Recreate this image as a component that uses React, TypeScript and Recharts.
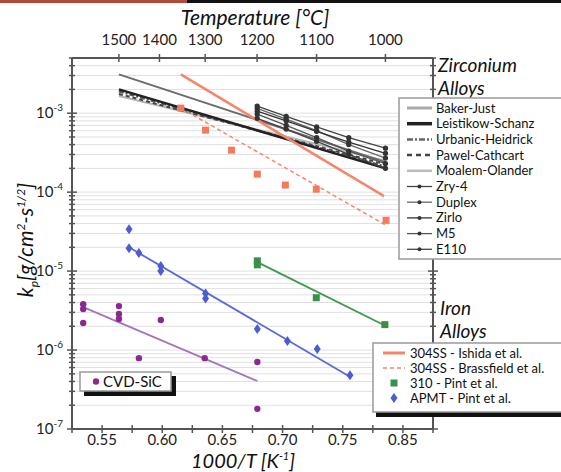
import React from 'react';
import { ComposedChart, Line, Scatter, XAxis, YAxis, CartesianGrid } from 'recharts';

// x values are 1000/T [1/K]
const temperatures = [1500, 1400, 1300, 1200, 1100, 1000];
const xTicks = [0.55, 0.6, 0.65, 0.7, 0.75, 0.8];
const xTickLabels = ['0.55', '0.60', '0.65', '0.70', '0.75', '0.85'];

// zirconium correlations (1500 -> 1000 C)
const corrX = [0.564, 0.7855];
const bakerJust = [3.1e-3, 2.4e-4];
const leistikowSchanz = [2.0e-3, 2.0e-4];
const urbanicHeidrick = [1.9e-3, 2.1e-4];
const pawelCathcart = [1.75e-3, 2.25e-4];
const moalemOlander = [1.65e-3, 2.5e-4];

// zirconium alloys (1200 -> 1000 C)
const alloyX = [0.6789, 0.703, 0.7283, 0.755, 0.7855];
const zry4 = [1.23e-3, 9.1e-4, 6.7e-4, 4.9e-4, 3.6e-4];
const duplex = [1.15e-3, 8.4e-4, 6.0e-4, 4.0e-4, 2.7e-4];
const zirlo = [1.06e-3, 8.0e-4, 5.9e-4, 4.3e-4, 3.1e-4];
const m5 = [9.7e-4, 7.0e-4, 4.9e-4, 3.3e-4, 2.3e-4];
const e110 = [8.6e-4, 6.3e-4, 4.4e-4, 3.0e-4, 2.0e-4];

// iron alloys
const ishidaX = [0.6154, 0.7843];
const ishidaY = [3.1e-3, 8.9e-5];
const brassfieldX = [0.6154, 0.636, 0.6576, 0.679, 0.7023, 0.728, 0.786];
const brassfieldY = [1.16e-3, 6.1e-4, 3.4e-4, 1.69e-4, 1.23e-4, 1.09e-4, 4.4e-5];
const brassfieldFitX = [0.6154, 0.786];
const brassfieldFitY = [1.16e-3, 3.8e-5];
const pint310X = [0.679, 0.679, 0.728, 0.785];
const pint310Y = [1.35e-5, 1.2e-5, 4.6e-6, 2.1e-6];
const pint310FitX = [0.679, 0.785];
const pint310FitY = [1.3e-5, 2.05e-6];
const apmtX = [0.5724, 0.5724, 0.5806, 0.5988, 0.5988, 0.636, 0.636, 0.679, 0.704, 0.7288, 0.756];
const apmtY = [3.4e-5, 1.95e-5, 1.69e-5, 1.16e-5, 1.0e-5, 5.2e-6, 4.5e-6, 1.85e-6, 1.3e-6, 1.03e-6, 4.8e-7];
const apmtFitX = [0.5724, 0.756];
const apmtFitY = [2.0e-5, 4.6e-7];

// CVD-SiC
const sicX = [0.5343, 0.5343, 0.5343, 0.564, 0.564, 0.564, 0.5988, 0.5806, 0.6353, 0.679, 0.679];
const sicY = [3.8e-6, 3.3e-6, 2.2e-6, 3.6e-6, 2.86e-6, 2.47e-6, 2.4e-6, 7.9e-7, 7.9e-7, 7.05e-7, 1.8e-7];
const sicFitX = [0.5343, 0.679];
const sicFitY = [3.5e-6, 4.05e-7];

const pts = (xs: number[], ys: number[]) => xs.map((x, i) => ({ x, y: ys[i] }));

const yTicks: number[] = [];
for (let e = -7; e <= -3; e++) {
  for (let m = 1; m <= 9; m++) {
    if (e === -3 && m > 5) break;
    yTicks.push(m * Math.pow(10, e));
  }
}
const xMinorTicks: number[] = [];
for (let i = 0; i <= 12; i++) xMinorTicks.push(+(0.525 + i * 0.025).toFixed(3));
const topTicks = temperatures.map((t) => 1000 / (t + 273.15));

const SALMON = '#f4866a';
const GREEN = '#3d9a4c';
const BLUE = '#5b6ad6';
const PURPLE = '#8a2a8e';
const AXIS = '#555';
const FONT = 'Lato, "DejaVu Sans", sans-serif';

const YTick = (props: any) => {
  const { y, payload } = props;
  const v = payload.value;
  const e = Math.round(Math.log10(v));
  const major = Math.abs(v - Math.pow(10, e)) / v < 1e-6;
  return (
    <g>
      <line x1={major ? 67 : 69} x2={major ? 77 : 75} y1={y} y2={y} stroke={AXIS} strokeWidth={1.5} />
      {major && (
        <text x={63} y={y + 5} textAnchor="end" fontSize={15} fill="#222" fontFamily={FONT}>
          10<tspan dy={-7} fontSize={10}>{String(e)}</tspan>
        </text>
      )}
    </g>
  );
};

const RightTick = (props: any) => {
  const { y, payload } = props;
  const v = payload.value;
  const e = Math.round(Math.log10(v));
  const major = Math.abs(v - Math.pow(10, e)) / v < 1e-6;
  return <line x1={major ? 428 : 430} x2={major ? 438 : 436} y1={y} y2={y} stroke={AXIS} strokeWidth={1.5} />;
};

const BottomTick = (props: any) => {
  const { x, payload } = props;
  const idx = xTicks.findIndex((t) => Math.abs(t - payload.value) < 1e-6);
  return (
    <g>
      <line x1={x} x2={x} y1={425} y2={433} stroke={AXIS} strokeWidth={1.5} />
      {idx >= 0 && (
        <text x={x} y={445} textAnchor="middle" fontSize={15} fill="#222" fontFamily={FONT}>
          {xTickLabels[idx]}
        </text>
      )}
    </g>
  );
};

const TopTick = (props: any) => {
  const { x, payload } = props;
  const label = Math.round((1000 / payload.value - 273.15) / 10) * 10;
  return (
    <g>
      <line x1={x} x2={x} y1={54} y2={62} stroke={AXIS} strokeWidth={1.5} />
      <text x={x} y={45} textAnchor="middle" fontSize={15} fill="#222" fontFamily={FONT}>
        {label}
      </text>
    </g>
  );
};

const Square = (p: any) => <rect x={p.cx - 3.5} y={p.cy - 3.5} width={7} height={7} fill={p.fill} />;
const Diamond = (p: any) => (
  <path d={`M${p.cx},${p.cy - 5} L${p.cx + 3.5},${p.cy} L${p.cx},${p.cy + 5} L${p.cx - 3.5},${p.cy} Z`} fill={p.fill} />
);
const Dot = (p: any) => <circle cx={p.cx} cy={p.cy} r={3.2} fill={p.fill} />;

const zrLegend = [
  { name: 'Baker-Just', stroke: '#aaa', width: 3, dash: undefined, dot: false },
  { name: 'Leistikow-Schanz', stroke: '#222', width: 3.5, dash: undefined, dot: false },
  { name: 'Urbanic-Heidrick', stroke: '#666', width: 2.5, dash: '6 2 2 2', dot: false },
  { name: 'Pawel-Cathcart', stroke: '#444', width: 2.5, dash: '5 4', dot: false },
  { name: 'Moalem-Olander', stroke: '#bbb', width: 2.5, dash: undefined, dot: false },
  { name: 'Zry-4', stroke: '#444', width: 1.3, dash: undefined, dot: true },
  { name: 'Duplex', stroke: '#666', width: 1.3, dash: undefined, dot: true },
  { name: 'Zirlo', stroke: '#333', width: 1.3, dash: undefined, dot: true },
  { name: 'M5', stroke: '#555', width: 1.3, dash: undefined, dot: true },
  { name: 'E110', stroke: '#444', width: 1.3, dash: undefined, dot: true },
];

export default function App() {
  const lineProps = { type: 'linear' as const, isAnimationActive: false, dataKey: 'y' };
  const alloySeries = [
    { key: 'zry4', ys: zry4, stroke: '#444' },
    { key: 'duplex', ys: duplex, stroke: '#666' },
    { key: 'zirlo', ys: zirlo, stroke: '#333' },
    { key: 'm5', ys: m5, stroke: '#555' },
    { key: 'e110', ys: e110, stroke: '#444' },
  ];

  return (
    <div style={{ position: 'absolute', left: 0, top: 0, width: 561, height: 472, background: '#fff', fontFamily: FONT }}>
      <ComposedChart width={561} height={472} margin={{ top: 0, right: 0, bottom: 0, left: 0 }}>
        <CartesianGrid vertical={false} stroke="#e0e0e0" />
        <XAxis
          type="number"
          dataKey="x"
          domain={[0.525, 0.825]}
          ticks={xMinorTicks}
          interval={0}
          height={43}
          tick={<BottomTick />}
          tickLine={false}
          axisLine={{ stroke: AXIS, strokeWidth: 2 }}
          allowDataOverflow
        />
        <XAxis
          xAxisId="top"
          orientation="top"
          type="number"
          dataKey="x"
          domain={[0.525, 0.825]}
          ticks={topTicks}
          interval={0}
          height={58}
          tick={<TopTick />}
          tickLine={false}
          axisLine={{ stroke: AXIS, strokeWidth: 2 }}
          allowDataOverflow
        />
        <YAxis
          type="number"
          dataKey="y"
          scale="log"
          domain={[1e-7, 5e-3]}
          ticks={yTicks}
          interval={0}
          width={72}
          tick={<YTick />}
          tickLine={false}
          axisLine={{ stroke: AXIS, strokeWidth: 2 }}
          allowDataOverflow
        />
        <YAxis
          yAxisId="r"
          orientation="right"
          type="number"
          scale="log"
          domain={[1e-7, 5e-3]}
          ticks={yTicks}
          interval={0}
          width={128}
          tick={<RightTick />}
          tickLine={false}
          axisLine={{ stroke: AXIS, strokeWidth: 2 }}
          allowDataOverflow
        />

        <Line {...lineProps} xAxisId="top" data={pts(corrX, moalemOlander)} stroke="#b5b5b5" strokeWidth={2} dot={false} />
        <Line {...lineProps} xAxisId="top" data={pts(corrX, bakerJust)} stroke="#6c6c6c" strokeWidth={2} dot={false} />
        <Line {...lineProps} xAxisId="top" data={pts(corrX, pawelCathcart)} stroke="#444" strokeWidth={2} strokeDasharray="4 3" dot={false} />
        <Line {...lineProps} xAxisId="top" data={pts(corrX, urbanicHeidrick)} stroke="#555" strokeWidth={2.5} strokeDasharray="5 2 2 2" dot={false} />
        <Line {...lineProps} xAxisId="top" data={pts(corrX, leistikowSchanz)} stroke="#222" strokeWidth={2.5} dot={false} />
        {alloySeries.map((s) => (
          <Line
            key={s.key}
            {...lineProps}
            data={pts(alloyX, s.ys)}
            stroke={s.stroke}
            strokeWidth={1.3}
            dot={{ r: 2, fill: '#333', stroke: '#333' }}
          />
        ))}

        <Line {...lineProps} data={pts(ishidaX, ishidaY)} stroke={SALMON} strokeWidth={2.5} dot={false} />
        <Line {...lineProps} data={pts(brassfieldFitX, brassfieldFitY)} stroke={SALMON} strokeWidth={1.5} strokeDasharray="4 3" dot={false} />
        <Scatter data={pts(brassfieldX, brassfieldY)} fill="#f47a5c" shape={Square} isAnimationActive={false} />

        <Line {...lineProps} data={pts(pint310FitX, pint310FitY)} stroke={GREEN} strokeWidth={1.8} dot={false} />
        <Scatter data={pts(pint310X, pint310Y)} fill="#3a9048" shape={Square} isAnimationActive={false} />

        <Line {...lineProps} data={pts(apmtFitX, apmtFitY)} stroke={BLUE} strokeWidth={1.8} dot={false} />
        <Scatter data={pts(apmtX, apmtY)} fill="#4a5ed0" shape={Diamond} isAnimationActive={false} />

        <Line {...lineProps} data={pts(sicFitX, sicFitY)} stroke="#a474bc" strokeWidth={1.8} dot={false} />
        <Scatter data={pts(sicX, sicY)} fill={PURPLE} shape={Dot} isAnimationActive={false} />
      </ComposedChart>

      <svg width={561} height={472} style={{ position: 'absolute', left: 0, top: 0, pointerEvents: 'none' }} fontFamily={FONT}>
        <rect x={0} y={0} width={187} height={3} fill="#b04a3a" />
        <rect x={187} y={0} width={374} height={3} fill="#111" />

        <text x={255} y={25} textAnchor="middle" fontSize={21} fontStyle="italic" fill="#111">
          Temperature [°C]
        </text>
        <text x={243} y={468} textAnchor="middle" fontSize={20} fontStyle="italic" fill="#111">
          1000/T [K<tspan dy={-8} fontSize={11}>-1</tspan>
          <tspan dy={8}>]</tspan>
        </text>
        <text transform="translate(33,240) rotate(-90)" textAnchor="middle" fontSize={21} fontStyle="italic" fill="#111">
          k<tspan dy={5} fontSize={12}>p</tspan>
          <tspan dy={-5}>[g/cm</tspan>
          <tspan dy={-8} fontSize={12}>2</tspan>
          <tspan dy={8}>-s</tspan>
          <tspan dy={-8} fontSize={12}>1/2</tspan>
          <tspan dy={8}>]</tspan>
        </text>

        <text x={438} y={72} fontSize={19} fontStyle="italic" fill="#111">Zirconium</text>
        <text x={438} y={95} fontSize={19} fontStyle="italic" fill="#111">Alloys</text>
        <text x={440} y={315} fontSize={19} fontStyle="italic" fill="#111">Iron</text>
        <text x={440} y={338} fontSize={19} fontStyle="italic" fill="#111">Alloys</text>

        {/* zirconium legend */}
        <rect x={399} y={98} width={170} height={161} fill="#fff" stroke="#999" strokeWidth={1.5} />
        {zrLegend.map((item, i) => {
          const cy = 108 + i * 15.7;
          return (
            <g key={item.name}>
              <line x1={407} x2={432} y1={cy} y2={cy} stroke={item.stroke} strokeWidth={item.width} strokeDasharray={item.dash} />
              {item.dot && <circle cx={419.5} cy={cy} r={2} fill="#333" />}
              <text x={436} y={cy + 4.5} fontSize={13} fill="#111">{item.name}</text>
            </g>
          );
        })}

        {/* iron legend */}
        <rect x={376} y={411} width={190} height={6} fill="#111" />
        <rect x={373} y={343} width={190} height={69} fill="#fff" stroke="#999" strokeWidth={1.5} />
        <line x1={383} x2={405} y1={353} y2={353} stroke={SALMON} strokeWidth={3} />
        <line x1={383} x2={405} y1={368} y2={368} stroke={SALMON} strokeWidth={1.5} strokeDasharray="4 3" />
        <rect x={390.5} y={379.5} width={7} height={7} fill="#3a9048" />
        <path d="M394,393 L397.5,398 L394,403 L390.5,398 Z" fill="#4a5ed0" />
        <text x={410} y={357.5} fontSize={13} fill="#111">304SS - Ishida et al.</text>
        <text x={410} y={372.5} fontSize={13} fill="#111">304SS - Brassfield et al.</text>
        <text x={410} y={387.5} fontSize={13} fill="#111">310 - Pint et al.</text>
        <text x={410} y={402.5} fontSize={13} fill="#111">APMT - Pint et al.</text>

        {/* CVD-SiC legend */}
        <rect x={84} y={376} width={92} height={20} fill="#111" />
        <rect x={80} y={372} width={91} height={19} fill="#fff" stroke="#999" strokeWidth={1.5} />
        <circle cx={96} cy={381.5} r={3.2} fill={PURPLE} />
        <text x={103} y={387} fontSize={15} fill="#111">CVD-SiC</text>
      </svg>
    </div>
  );
}
